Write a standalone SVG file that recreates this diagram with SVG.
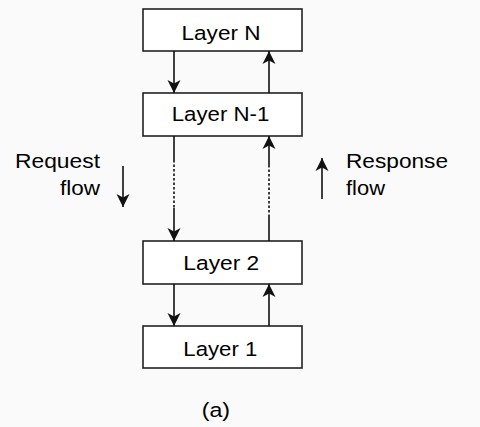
<svg xmlns="http://www.w3.org/2000/svg" width="480" height="427" viewBox="0 0 480 427">
<style>
.box{fill:#fff;stroke:#222;stroke-width:1.6}
.t{font-family:"Liberation Sans",Arial,sans-serif;font-size:20.5px;fill:#000}
.c{stroke:#111;stroke-width:1.6;fill:none}
.d{stroke:#111;stroke-width:1.6;fill:none;stroke-dasharray:2.5 2}
</style>
<defs>
<marker id="ah" markerUnits="userSpaceOnUse" markerWidth="16" markerHeight="16" viewBox="-14 -8 16 16" refX="0" refY="0" orient="auto">
<path d="M0,0 L-13,-6.5 L-9.5,0 L-13,6.5 Z" fill="#111"/>
</marker>
</defs>
<rect width="480" height="427" fill="#fafafa"/>
<g id="layerN"><rect class="box" x="143" y="9" width="159" height="42"/><text class="t" x="181.5" y="39.5" textLength="79" lengthAdjust="spacingAndGlyphs">Layer N</text></g>
<g id="layerN1"><rect class="box" x="143" y="93" width="159" height="43"/><text class="t" x="171.7" y="121" textLength="97.6" lengthAdjust="spacingAndGlyphs">Layer N-1</text></g>
<g id="layer2"><rect class="box" x="143" y="241" width="159" height="43"/><text class="t" x="183.3" y="270" textLength="76" lengthAdjust="spacingAndGlyphs">Layer 2</text></g>
<g id="layer1"><rect class="box" x="143" y="326" width="159" height="42"/><text class="t" x="183.3" y="356" textLength="74" lengthAdjust="spacingAndGlyphs">Layer 1</text></g>
<g id="connectors">
<line class="c" x1="174" y1="51" x2="174" y2="93" marker-end="url(#ah)"/>
<line class="c" x1="269" y1="93" x2="269" y2="51" marker-end="url(#ah)"/>
<line class="c" x1="174" y1="136" x2="174" y2="160"/>
<line class="d" x1="174" y1="160" x2="174" y2="208"/>
<line class="c" x1="174" y1="208" x2="174" y2="241" marker-end="url(#ah)"/>
<line class="c" x1="269" y1="241" x2="269" y2="217"/>
<line class="d" x1="269" y1="217" x2="269" y2="167"/>
<line class="c" x1="269" y1="167" x2="269" y2="136" marker-end="url(#ah)"/>
<line class="c" x1="174" y1="284" x2="174" y2="326" marker-end="url(#ah)"/>
<line class="c" x1="269" y1="326" x2="269" y2="284" marker-end="url(#ah)"/>
</g>
<g id="request">
<text class="t" x="15" y="168" textLength="85" lengthAdjust="spacingAndGlyphs">Request</text>
<text class="t" x="60" y="195" textLength="40" lengthAdjust="spacingAndGlyphs">flow</text>
<line class="c" x1="123" y1="166" x2="123" y2="207" marker-end="url(#ah)"/>
</g>
<g id="response">
<text class="t" x="346" y="168" textLength="102" lengthAdjust="spacingAndGlyphs">Response</text>
<text class="t" x="346" y="195" textLength="39" lengthAdjust="spacingAndGlyphs">flow</text>
<line class="c" x1="322" y1="199" x2="322" y2="158" marker-end="url(#ah)"/>
</g>
<text class="t" x="201.7" y="417" textLength="28.3" lengthAdjust="spacingAndGlyphs">(a)</text>
</svg>
